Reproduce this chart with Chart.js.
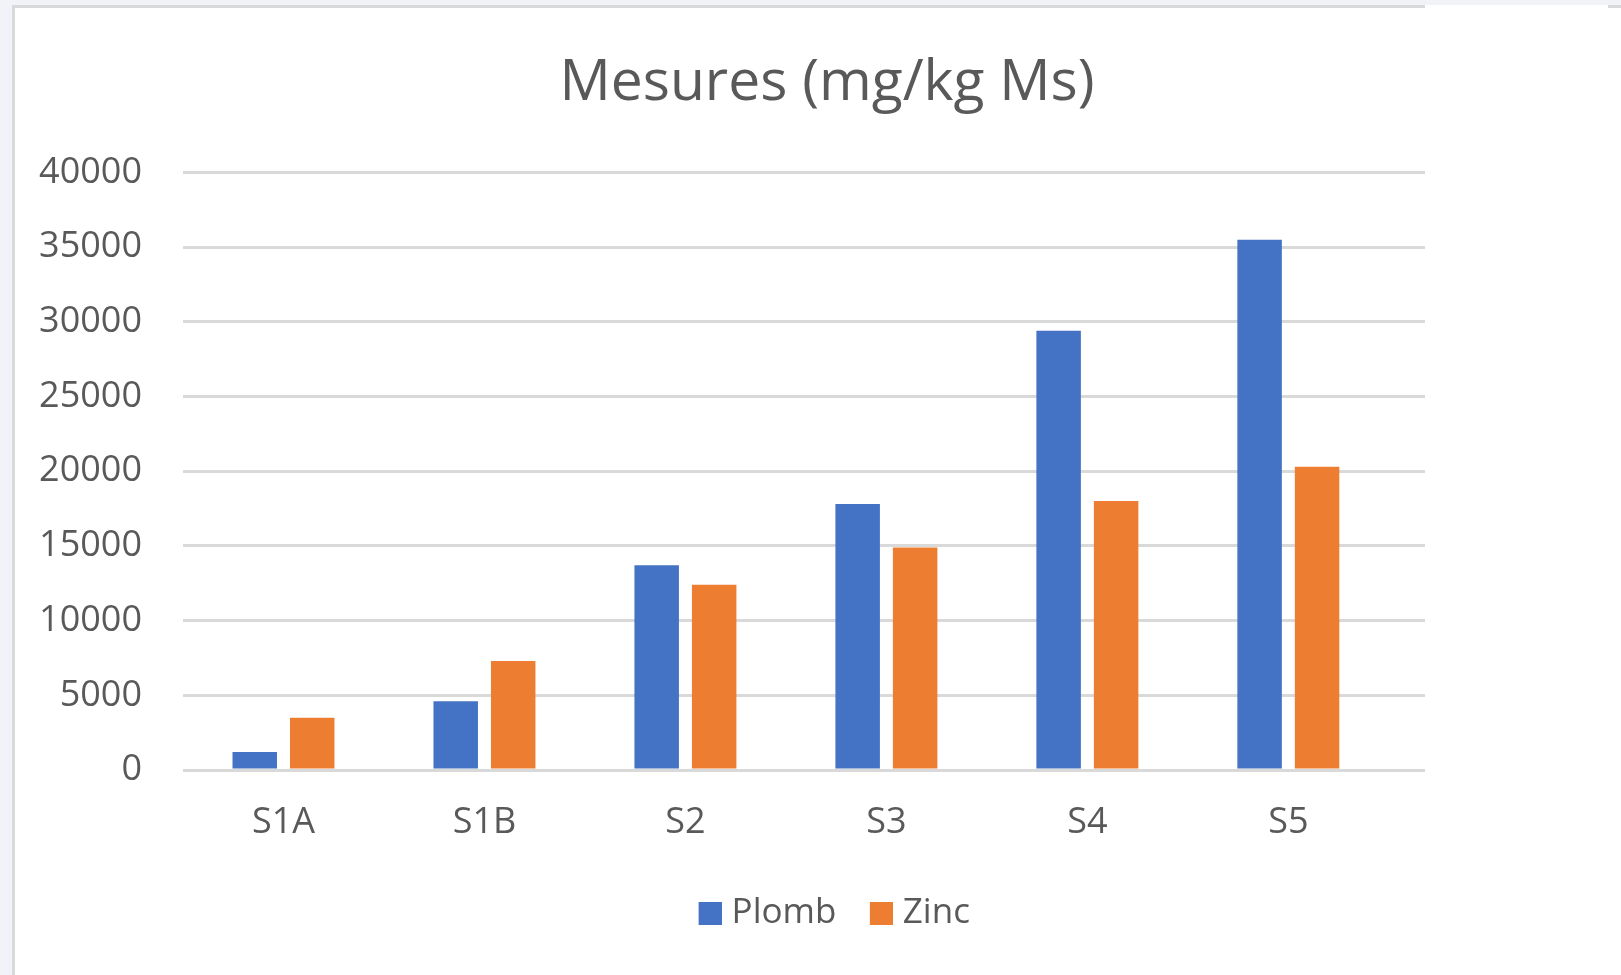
<!DOCTYPE html>
<html lang="fr">
<head>
  <meta charset="UTF-8">
  <title>Mesures (mg/kg Ms)</title>
  <script src="https://cdn.jsdelivr.net/npm/chart.js"></script>
  <style>
    body {
      margin: 0;
      background: #f2f3f9;
      overflow: hidden;
    }
    .card {
      position: absolute;
      left: 12px;
      top: 5px;
      width: 1609px;
      height: 970px;
      background: #fff;
      border-left: 3px solid #d9d9d9;
      box-sizing: border-box;
    }
    .edge {
      position: absolute;
      top: 5px;
      height: 3px;
      background: #d9d9d9;
    }
    #chart {
      position: absolute;
      left: 0;
      top: 0;
    }
  </style>
</head>
<body>
  <div class="card"></div>
  <div class="edge" style="left:12px;width:1413px"></div>
  <div class="edge" style="left:1608px;width:13px"></div>
  <canvas id="chart" width="1621" height="975"></canvas>

  <script>
    const sites = ['S1A', 'S1B', 'S2', 'S3', 'S4', 'S5'];
    const plomb = [1200, 4600, 13700, 17800, 29400, 35500];
    const zinc = [3500, 7300, 12400, 14900, 18000, 20300];
    const yTicks = [0, 5000, 10000, 15000, 20000, 25000, 30000, 35000, 40000];

    const grey = '#595959';
    Chart.defaults.font.family = "'Open Sans', sans-serif";
    Chart.defaults.color = grey;

    // legend swatch: square on the right of a wider transparent image,
    // so the gap to the text is tighter than chart.js' default
    function swatch(color) {
      const c = document.createElement('canvas');
      c.width = 45;
      c.height = 23;
      const g = c.getContext('2d');
      g.fillStyle = color;
      g.fillRect(22, 0, 23, 23);
      return c;
    }

    new Chart(document.getElementById('chart').getContext('2d'), {
      type: 'bar',
      data: {
        datasets: [
          {
            label: 'Plomb',
            data: plomb.map((v, i) => ({ x: i, y: v })),
            backgroundColor: '#4472c4',
            pointStyle: swatch('#4472c4')
          },
          {
            label: 'Zinc',
            data: zinc.map((v, i) => ({ x: i, y: v })),
            backgroundColor: '#ed7d31',
            pointStyle: swatch('#ed7d31')
          }
        ]
      },
      options: {
        responsive: false,
        animation: false,
        devicePixelRatio: 1,
        categoryPercentage: 0.572,
        barPercentage: 0.774,
        layout: { padding: { left: 33, right: 0, top: 0, bottom: 34 } },
        plugins: {
          title: {
            display: true,
            text: 'Mesures (mg/kg Ms)',
            color: grey,
            font: { size: 57, weight: 'normal' },
            padding: { top: 50, bottom: 54 }
          },
          legend: {
            position: 'bottom',
            labels: {
              usePointStyle: true,
              pointStyleWidth: 30,
              boxHeight: 23,
              padding: 19,
              color: grey,
              font: { size: 35 }
            }
          },
          tooltip: { enabled: false }
        },
        scales: {
          x: {
            type: 'linear',
            min: -0.5,
            max: 5.68,
            offset: false,
            grid: { display: false },
            border: { display: false },
            afterBuildTicks: (s) => { s.ticks = sites.map((_, i) => ({ value: i })); },
            afterFit: (s) => { s.height = 107; },
            ticks: {
              padding: 23,
              color: grey,
              font: { size: 36 },
              callback: (v) => sites[v]
            }
          },
          y: {
            min: 0,
            max: 40000,
            afterBuildTicks: (s) => { s.ticks = yTicks.map((v) => ({ value: v })); },
            afterFit: (s) => { s.width = 150; },
            grid: { color: '#d9d9d9', lineWidth: 3, drawTicks: false },
            border: { display: false },
            ticks: {
              padding: 41,
              color: grey,
              font: { size: 36 },
              callback: (v) => String(v)
            }
          },
          y2: {
            position: 'right',
            grid: { display: false },
            border: { display: false },
            ticks: { display: false },
            afterFit: (s) => { s.width = 196; }
          }
        }
      }
    });
  </script>
</body>
</html>
